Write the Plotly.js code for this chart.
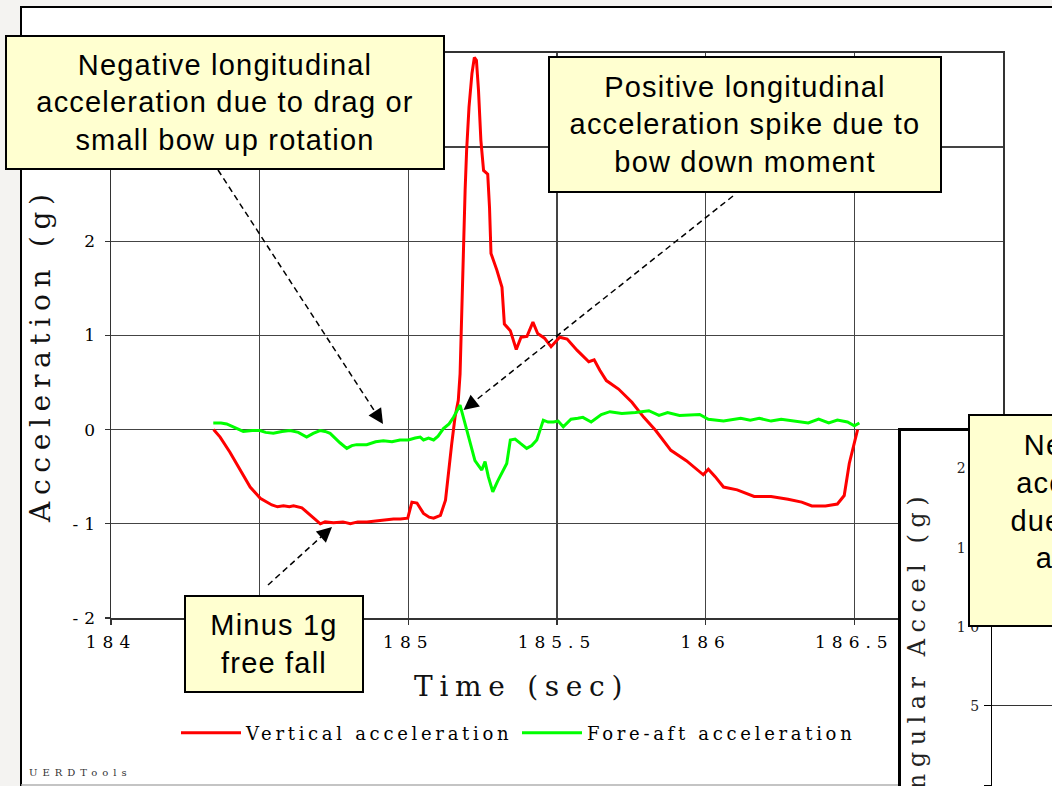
<!DOCTYPE html>
<html><head><meta charset="utf-8">
<script src="https://cdn.plot.ly/plotly-3.0.1.min.js"></script>
<style>
html,body{margin:0;padding:0;background:#f4f3f1;}
#chart{width:1052px;height:786px;}
text[style*="font-size: 28px"]{letter-spacing:6.7px;}
text[style*="font-size: 17px"]{letter-spacing:6px;}
text[style*="font-size: 18px"]{letter-spacing:3.7px;}
text[style*="font-size: 14px"]{letter-spacing:4.5px;}
text[style*="font-size: 24px"]{letter-spacing:6.5px;}
text[style*="font-size: 10px"]{letter-spacing:5px;}
text[style*="font-size: 29px"]{letter-spacing:1.2px;}
</style></head>
<body><div id="chart"></div>
<script>
// ---- data ----
const seriesNames = ['Vertical acceleration', 'Fore-aft acceleration'];
const timeVert = [184.345,184.367,184.400,184.434,184.468,184.502,184.541,184.560,184.580,184.600,184.614,184.642,184.670,184.704,184.720,184.748,184.780,184.805,184.830,184.861,184.890,184.917,184.950,184.973,184.998,185.012,185.029,185.051,185.070,185.085,185.108,185.125,185.134,185.146,185.157,185.168,185.174,185.177,185.182,185.186,185.191,185.196,185.204,185.214,185.222,185.229,185.236,185.244,185.253,185.267,185.273,185.278,185.298,185.315,185.323,185.343,185.363,185.379,185.399,185.419,185.435,185.458,185.480,185.509,185.534,185.568,185.607,185.625,185.644,185.666,185.707,185.752,185.792,185.832,185.883,185.935,185.992,186.009,186.032,186.060,186.106,186.163,186.220,186.277,186.323,186.357,186.403,186.443,186.466,186.483,186.500,186.511];
const vertAccel = [0.00,-0.08,-0.24,-0.43,-0.61,-0.73,-0.80,-0.82,-0.81,-0.82,-0.81,-0.83,-0.91,-1.00,-0.98,-0.99,-0.98,-1.00,-0.98,-0.98,-0.97,-0.96,-0.95,-0.95,-0.94,-0.77,-0.78,-0.89,-0.93,-0.94,-0.91,-0.75,-0.47,-0.15,0.13,0.31,0.59,0.95,1.65,2.01,2.54,2.96,3.42,3.78,3.95,3.92,3.60,3.07,2.75,2.71,2.36,1.87,1.69,1.51,1.12,1.05,0.85,0.98,0.99,1.14,1.02,0.97,0.88,0.98,0.96,0.84,0.72,0.74,0.63,0.52,0.43,0.29,0.13,-0.01,-0.22,-0.33,-0.48,-0.42,-0.50,-0.61,-0.64,-0.71,-0.71,-0.74,-0.77,-0.81,-0.81,-0.79,-0.70,-0.36,-0.15,0.00];
const timeFore = [184.344,184.370,184.389,184.411,184.445,184.475,184.501,184.520,184.546,184.575,184.602,184.630,184.658,184.680,184.703,184.720,184.737,184.770,184.793,184.810,184.826,184.860,184.890,184.916,184.945,184.972,185.000,185.023,185.040,185.051,185.068,185.085,185.100,185.118,185.137,185.152,185.174,185.191,185.207,185.224,185.247,185.258,185.269,185.284,185.300,185.317,185.331,185.343,185.359,185.378,185.398,185.415,185.432,185.454,185.470,185.488,185.504,185.521,185.547,185.570,185.587,185.615,185.649,185.678,185.718,185.764,185.790,185.809,185.843,185.872,185.912,185.950,185.980,186.009,186.060,186.118,186.150,186.180,186.220,186.254,186.300,186.345,186.380,186.414,186.443,186.477,186.500,186.517];
const foreAftAccel = [0.07,0.07,0.06,0.03,-0.02,-0.01,-0.01,-0.03,-0.04,-0.02,-0.01,-0.03,-0.08,-0.04,-0.01,-0.02,-0.04,-0.14,-0.20,-0.17,-0.16,-0.16,-0.13,-0.12,-0.13,-0.11,-0.11,-0.09,-0.08,-0.11,-0.09,-0.11,-0.07,0.01,0.06,0.13,0.26,0.06,-0.13,-0.33,-0.43,-0.34,-0.50,-0.66,-0.55,-0.44,-0.36,-0.11,-0.10,-0.15,-0.20,-0.17,-0.11,0.10,0.08,0.08,0.09,0.03,0.11,0.12,0.13,0.08,0.16,0.19,0.17,0.18,0.19,0.20,0.15,0.18,0.15,0.16,0.16,0.11,0.09,0.12,0.10,0.12,0.09,0.11,0.09,0.07,0.11,0.07,0.10,0.08,0.04,0.07];
const xTickVals = [184, 184.5, 185, 185.5, 186, 186.5, 187];
const xTickText = ['184', '184.5', '185', '185.5', '186', '186.5', '187'];
const yTickVals = [-2, -1, 0, 1, 2, 3, 4];
const yTickText = ['-2', '-1', '0', '1', '2', '3', '4'];
const angTickVals = [0, 5, 10, 15, 20];
const angTickText = ['0', '5', '10', '15', '20'];
const noteTexts = [
  'Negative longitudinal<br>acceleration due to drag or<br>small bow up rotation',
  'Positive longitudinal<br>acceleration spike due to<br>bow down moment',
  'Minus 1g<br>free fall',
  'Negative angular<br>acceleration spike<br>due to bow landing<br>at water impact<br>(bow down)'
];

// ---- layout helpers (page pixels -> paper fraction) ----
const W = 1052, H = 786;
const px = v => v / W;
const py = v => 1 - v / H;
const SERIF = 'DejaVu Serif';
const SANS = 'Liberation Sans';

const traces = [
  {x: timeVert, y: vertAccel, name: seriesNames[0], type: 'scatter', mode: 'lines',
   line: {color: '#ff0000', width: 3}, xaxis: 'x', yaxis: 'y'},
  {x: timeFore, y: foreAftAccel, name: seriesNames[1], type: 'scatter', mode: 'lines',
   line: {color: '#00ff00', width: 3}, xaxis: 'x', yaxis: 'y'},
  {x: [], y: [], xaxis: 'x2', yaxis: 'y2', showlegend: false, type: 'scatter'},
  {x: [], y: [], xaxis: 'x3', yaxis: 'y3', showlegend: false, type: 'scatter'}
];

function box(i, left, top, w, h) {
  return {xref: 'paper', yref: 'paper', x: px(left), y: py(top), xanchor: 'left', yanchor: 'top',
    text: noteTexts[i], showarrow: false, width: w - 4, height: h - 4, bgcolor: '#ffffd0',
    bordercolor: '#000', borderwidth: 2, borderpad: 0, align: 'center', valign: 'middle',
    font: {family: SANS, size: 29, color: '#000'}};
}
function head(tail, tip) {
  const dx = tip[0] - tail[0], dy = tip[1] - tail[1], L = Math.hypot(dx, dy);
  return {xref: 'paper', yref: 'paper', x: px(tip[0]), y: py(tip[1]), text: '', showarrow: true,
    arrowhead: 2, arrowsize: 2, arrowwidth: 1.5, arrowcolor: '#000', standoff: 0,
    ax: -dx / L * 16, ay: -dy / L * 16};
}
function dashLine(tail, tip) {
  const dx = tip[0] - tail[0], dy = tip[1] - tail[1], L = Math.hypot(dx, dy);
  const ex = tip[0] - dx / L * 12, ey = tip[1] - dy / L * 12;
  return {type: 'line', xref: 'paper', yref: 'paper', x0: px(tail[0]), y0: py(tail[1]),
    x1: px(ex), y1: py(ey), line: {color: '#000', width: 1.5, dash: '6px,4px'}, layer: 'above'};
}
const arrows = [
  [[218, 170], [383, 424]],
  [[733, 196], [463.5, 410]],
  [[268, 585], [332, 527]]
];

const layout = {
  width: W, height: H,
  margin: {l: 0, r: 0, t: 0, b: 0},
  paper_bgcolor: '#f4f3f1', plot_bgcolor: '#ffffff',
  showlegend: true,
  hovermode: false,
  xaxis: {domain: [px(111), px(1003)], range: [184, 187], anchor: 'y',
    tickmode: 'array', tickvals: xTickVals, ticktext: xTickText,
    ticks: 'outside', ticklen: 5, tickcolor: '#333', tickwidth: 1.2, ticklabelstandoff: 3,
    tickfont: {family: SERIF, size: 17, color: '#000'},
    showgrid: true, gridcolor: '#444', gridwidth: 1.2,
    showline: true, mirror: true, linecolor: '#333', linewidth: 1.5, zeroline: false},
  yaxis: {domain: [py(618), py(52.7)], range: [-2, 4], anchor: 'x',
    tickmode: 'array', tickvals: yTickVals, ticktext: yTickText,
    ticks: 'outside', ticklen: 5, tickcolor: '#333', tickwidth: 1.2,
    tickfont: {family: SERIF, size: 17, color: '#000'},
    showgrid: true, gridcolor: '#444', gridwidth: 1.2,
    showline: true, mirror: true, linecolor: '#333', linewidth: 1.5, zeroline: false},
  xaxis2: {domain: [px(901), 1], range: [0, 1], anchor: 'y2', side: 'top',
    showline: true, linecolor: '#000', linewidth: 3, showgrid: false, zeroline: false,
    showticklabels: false, ticks: '', fixedrange: true},
  yaxis2: {domain: [0, py(431)], range: [0, 1], anchor: 'x2',
    showline: true, linecolor: '#000', linewidth: 3, showgrid: false, zeroline: false,
    showticklabels: false, ticks: '', fixedrange: true},
  xaxis3: {domain: [px(992), 1], range: [0, 1], anchor: 'y3',
    showline: false, showgrid: false, zeroline: false, showticklabels: false, ticks: '', fixedrange: true},
  yaxis3: {domain: [0, py(440)], range: [-0.063, 21.8], anchor: 'x3',
    tickmode: 'array', tickvals: angTickVals, ticktext: angTickText,
    ticks: 'outside', ticklen: 7, tickcolor: '#000', tickwidth: 1, ticklabelstandoff: -3,
    tickfont: {family: SERIF, size: 14, color: '#222'},
    showline: true, linecolor: '#000', linewidth: 1.5,
    showgrid: true, gridcolor: '#333', gridwidth: 1, zeroline: false, fixedrange: true},
  legend: {orientation: 'h', x: px(176), y: py(733), xanchor: 'left', yanchor: 'middle',
    bgcolor: 'rgba(0,0,0,0)', borderwidth: 0, itemwidth: 60,
    entrywidth: 266, entrywidthmode: 'pixels',
    font: {family: SERIF, size: 18, color: '#000'}},
  shapes: [
    {type: 'rect', xref: 'paper', yref: 'paper', x0: px(21), x1: 1.05, y0: -0.05, y1: py(7),
     fillcolor: '#ffffff', line: {color: '#000', width: 2}, layer: 'below'},
    {type: 'line', xref: 'paper', yref: 'paper', x0: px(21), x1: 1.05, y0: py(785), y1: py(785),
     line: {color: '#b0b0b0', width: 1.5}, layer: 'below'}
  ].concat(arrows.map(a => dashLine(a[0], a[1]))),
  annotations: [
    {xref: 'paper', yref: 'paper', x: px(41), y: py(355), xanchor: 'center', yanchor: 'middle',
     text: 'Acceleration (g)', textangle: -90, showarrow: false,
     font: {family: SERIF, size: 28, color: '#111'}},
    {xref: 'paper', yref: 'paper', x: px(521), y: py(686), xanchor: 'center', yanchor: 'middle',
     text: 'Time (sec)', showarrow: false, font: {family: SERIF, size: 28, color: '#111'}},
    {xref: 'paper', yref: 'paper', x: px(917), y: py(488), xanchor: 'center', yanchor: 'top',
     text: 'Angular Accel (g)', textangle: -90, showarrow: false,
     font: {family: SERIF, size: 24, color: '#222'}},
    {xref: 'paper', yref: 'paper', x: px(27), y: py(772), xanchor: 'left', yanchor: 'middle',
     text: 'UERDTools', showarrow: false, font: {family: SERIF, size: 10, color: '#333'}},
    box(0, 5, 35, 440, 135),
    box(1, 548, 56, 394, 137),
    box(2, 184, 595, 180, 98),
    box(3, 968, 414, 350, 213)
  ].concat(arrows.map(a => head(a[0], a[1])))
};

Plotly.newPlot('chart', traces, layout, {displayModeBar: false, staticPlot: true});
</script>
</body></html>
